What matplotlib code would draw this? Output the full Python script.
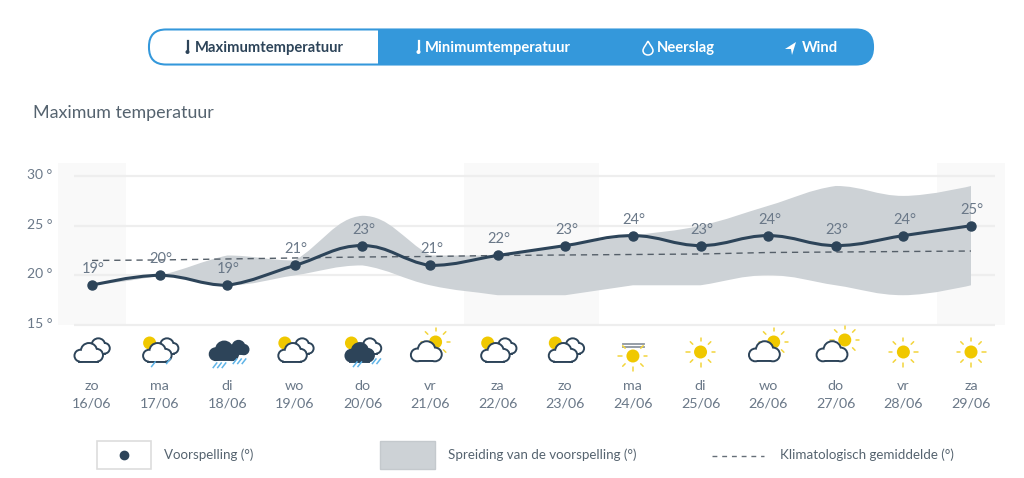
import matplotlib
matplotlib.use("Agg")
import matplotlib.pyplot as plt
from matplotlib.path import Path
from matplotlib.patches import PathPatch, Circle, Rectangle, FancyBboxPatch
from matplotlib.transforms import ScaledTranslation
import numpy as np

plt.rcParams['font.family'] = ['Lato', 'DejaVu Sans']

days = ['zo', 'ma', 'di', 'wo', 'do', 'vr', 'za', 'zo', 'ma', 'di', 'wo', 'do', 'vr', 'za']
dates = ['16/06', '17/06', '18/06', '19/06', '20/06', '21/06', '22/06',
         '23/06', '24/06', '25/06', '26/06', '27/06', '28/06', '29/06']
forecast = [19, 20, 19, 21, 23, 21, 22, 23, 24, 23, 24, 23, 24, 25]
spread_low = [19, 20, 19, 20, 21, 19, 18, 18, 19, 19, 20, 19, 18, 19]
spread_high = [19, 20, 22, 21.5, 26, 22, 22, 23, 24, 25, 27, 29, 28, 29]
climate = [21.5, 21.55, 21.65, 21.75, 21.85, 21.9, 22.0, 22.05, 22.1, 22.15, 22.3, 22.35, 22.4, 22.45]
y_ticks = [15, 20, 25, 30]
weekends = [(-0.5, 0.5), (5.5, 7.5), (12.5, 13.5)]
icons = ['cloud', 'sun_rain', 'dark_rain', 'sun_cloud', 'sun_dark_rain', 'bright_cloud', 'sun_cloud',
         'sun_cloud', 'haze', 'sun', 'bright_cloud', 'bright_cloud2', 'sun', 'sun']
tabs = ['Maximumtemperatuur', 'Minimumtemperatuur', 'Neerslag', 'Wind']
legend_labels = ['Voorspelling (°)', 'Spreiding van de voorspelling (°)', 'Klimatologisch gemiddelde (°)']

W, H = 1024, 478
DARK = '#2d4459'
TEXT = '#6a7888'
BLUE = '#3498db'
YELLOW = '#f0c800'
RAIN = '#5fb4e8'


def spline_path(x, y):
    # same kind of smoothing a highcharts spline uses
    s = 1.5
    d = s + 1
    verts = [(x[0], y[0])]
    codes = [Path.MOVETO]
    n = len(x)
    right = (x[0], y[0])
    for i in range(1, n):
        if i < n - 1:
            lx = (s * x[i] + x[i - 1]) / d
            ly = (s * y[i] + y[i - 1]) / d
            rx = (s * x[i] + x[i + 1]) / d
            ry = (s * y[i] + y[i + 1]) / d
            corr = (ry - ly) * (rx - x[i]) / (rx - lx) + y[i] - ry
            ly += corr
            ry += corr
            if ly > max(y[i - 1], y[i]):
                ry -= ly - max(y[i - 1], y[i])
                ly = max(y[i - 1], y[i])
            elif ly < min(y[i - 1], y[i]):
                ry += min(y[i - 1], y[i]) - ly
                ly = min(y[i - 1], y[i])
            if ry > max(y[i + 1], y[i]):
                ly -= ry - max(y[i + 1], y[i])
                ry = max(y[i + 1], y[i])
            elif ry < min(y[i + 1], y[i]):
                ly += min(y[i + 1], y[i]) - ry
                ry = min(y[i + 1], y[i])
        else:
            lx, ly = x[i], y[i]
            rx, ry = x[i], y[i]
        verts += [right, (lx, ly), (x[i], y[i])]
        codes += [Path.CURVE4, Path.CURVE4, Path.CURVE4]
        right = (rx, ry)
    return verts, codes


def band_path(x, low, high):
    v1, c1 = spline_path(x, high)
    v2, c2 = spline_path(x[::-1], low[::-1])
    c2[0] = Path.LINETO
    verts = v1 + v2 + [v1[0]]
    codes = c1 + c2 + [Path.CLOSEPOLY]
    return Path(verts, codes)


def draw_cloud(ov, cx, cy, scale, face, edge, z):
    parts = [
        (cx - 9 * scale, cy + 3 * scale, 5.5 * scale),
        (cx + 0.5 * scale, cy - 2 * scale, 8 * scale),
        (cx + 9 * scale, cy + 2.5 * scale, 6 * scale),
    ]
    base = (cx - 9 * scale, cy + 3 * scale, 18 * scale, 5.5 * scale)
    for cxx, cyy, r in parts:
        ov.add_patch(Circle((cxx, cyy), r, fc=edge, ec=edge, lw=2.8, zorder=z))
    ov.add_patch(Rectangle(base[:2], base[2], base[3], fc=edge, ec=edge, lw=2.8, zorder=z))
    for cxx, cyy, r in parts:
        ov.add_patch(Circle((cxx, cyy), r, fc=face, ec='none', zorder=z + 0.1))
    ov.add_patch(Rectangle(base[:2], base[2], base[3], fc=face, ec='none', zorder=z + 0.1))


def draw_sun(ov, cx, cy, r, rays=True, z=3, skip_top=False):
    ov.add_patch(Circle((cx, cy), r, fc=YELLOW, ec='none', zorder=z))
    if rays:
        for deg in np.arange(0, 360, 45):
            # y axis of the overlay points down, so 270 is the upward ray
            if skip_top and deg == 270:
                continue
            a = np.deg2rad(deg)
            ov.plot([cx + (r + 4.5) * np.cos(a), cx + (r + 8) * np.cos(a)],
                    [cy + (r + 4.5) * np.sin(a), cy + (r + 8) * np.sin(a)],
                    color='#f3d53c', lw=1.1, zorder=z, solid_capstyle='round')


def draw_rain(ov, x0, y0, count):
    for k in range(count):
        ov.plot([x0 + k * 4.5, x0 + k * 4.5 + 3.5], [y0 + 4.5, y0],
                color=RAIN, lw=1.1, zorder=6)


def draw_icon(ov, kind, x):
    y = 350
    if kind == 'sun':
        draw_sun(ov, x, y + 2, 6.5)
    elif kind == 'haze':
        draw_sun(ov, x, y + 6, 6.5, skip_top=True)
        ov.plot([x - 10, x + 11], [y - 6, y - 6], color='#8d96a0', lw=1.3)
        ov.plot([x - 10, x + 11], [y - 3, y - 3], color='#8d96a0', lw=1.3)
    elif kind == 'cloud':
        draw_cloud(ov, x + 6, y - 3.5, 0.72, 'white', DARK, 2)
        draw_cloud(ov, x - 3.5, y + 3, 0.9, 'white', DARK, 4)
    elif kind == 'sun_cloud' or kind == 'sun_rain':
        draw_sun(ov, x - 10, y - 7, 6.5, rays=False, z=1.5)
        draw_cloud(ov, x + 7, y - 3.5, 0.72, 'white', DARK, 2)
        draw_cloud(ov, x - 2.5, y + 3, 0.9, 'white', DARK, 4)
        if kind == 'sun_rain':
            draw_rain(ov, x - 8, y + 12, 1)
            draw_rain(ov, x + 7, y + 9, 1)
    elif kind == 'dark_rain':
        draw_cloud(ov, x + 11, y - 2, 0.62, DARK, DARK, 2)
        draw_cloud(ov, x - 3.5, y + 1.5, 0.9, DARK, DARK, 4)
        draw_rain(ov, x - 14, y + 13, 3)
        draw_rain(ov, x + 6, y + 9, 3)
    elif kind == 'sun_dark_rain':
        draw_sun(ov, x - 11, y - 7, 6.5, rays=False, z=1.5)
        draw_cloud(ov, x + 7, y - 3.5, 0.72, 'white', DARK, 2)
        draw_cloud(ov, x - 3, y + 3, 0.9, DARK, DARK, 4)
        draw_rain(ov, x - 9, y + 12, 2)
        draw_rain(ov, x + 10, y + 9, 2)
    elif kind == 'bright_cloud' or kind == 'bright_cloud2':
        sx, sy = (x + 5.5, y - 8) if kind == 'bright_cloud' else (x + 9, y - 10)
        draw_sun(ov, sx, sy, 6.5, z=1.5)
        draw_cloud(ov, x - 4, y + 2, 0.98, 'white', DARK, 4)


fig = plt.figure(figsize=(W / 100, H / 100), dpi=100, facecolor='white')

# chart area in pixels: x 58..1005, y 163..325
ax = fig.add_axes([58.2 / W, 1 - 325 / H, (1004.8 - 58.2) / W, (325 - 163) / H])
ax.set_xlim(-0.5, 13.5)
ax.set_ylim(15, 15 + (325 - 163) / 9.93)
for s in ax.spines.values():
    s.set_visible(False)

x = list(range(len(forecast)))
for a, b in weekends:
    ax.axvspan(a, b, color='#f9f9f9', lw=0, zorder=0)
ax.hlines(y_ticks, -0.26, 13.35, color='#eeeeee', lw=1.6, zorder=1, clip_on=False)

ax.add_patch(PathPatch(band_path(x, spread_low, spread_high), fc='#cdd2d6', ec='none', zorder=2))
ax.plot(x, climate, color='#555f69', lw=1, dashes=(4.5, 3.5), zorder=3)
v, c = spline_path(x, forecast)
ax.add_patch(PathPatch(Path(v, c), fc='none', ec=DARK, lw=2.2, zorder=4))
ax.plot(x, forecast, 'o', color=DARK, ms=6.5, zorder=5, clip_on=False)
for i, val in enumerate(forecast):
    ax.annotate(f'{val}°', (i, val), xytext=(1, 6.5), textcoords='offset points', ha='center',
                va='bottom', fontsize=10.5, color=TEXT, zorder=6)

ax.set_yticks(y_ticks)
ax.set_yticklabels([f'{t} °' for t in y_ticks], fontsize=10, color=TEXT)
ax.set_xticks(x)
ax.set_xticklabels([f'{d}\n{t}' for d, t in zip(days, dates)], fontsize=10.3, color=TEXT, linespacing=1.6)
ax.tick_params(axis='both', length=0)
ax.tick_params(axis='y', pad=4)
ax.tick_params(axis='x', pad=39.5)
for lab in ax.get_yticklabels():
    lab.set_transform(lab.get_transform() + ScaledTranslation(0, 1.4 / 72, fig.dpi_scale_trans))

# overlay in pixel coordinates for tabs, icons and legend
ov = fig.add_axes([0, 0, 1, 1], facecolor='none')
ov.set_xlim(0, W)
ov.set_ylim(H, 0)
ov.axis('off')

ov.add_patch(FancyBboxPatch((149, 29.5), 724, 35, boxstyle='round,pad=0,rounding_size=17', fc=BLUE, ec=BLUE, lw=1.5))
left_tab = FancyBboxPatch((150, 30.5), 260, 33, boxstyle='round,pad=0,rounding_size=16', fc='white', ec='none', zorder=2)
ov.add_patch(left_tab)
left_tab.set_clip_path(Rectangle((140, 20), 238, 50, transform=ov.transData))

tab_x = [195, 425, 657, 802]
tab_colors = [DARK, 'white', 'white', 'white']
for t, tx, col in zip(tabs, tab_x, tab_colors):
    ov.text(tx, 47.5, t, fontsize=10.6, fontweight='bold', color=col, va='center', ha='left', zorder=4)

# small tab glyphs
for gx, col in [(187.5, DARK), (418.5, 'white')]:
    ov.plot([gx, gx], [41, 51], color=col, lw=1.6, zorder=4)
    ov.add_patch(Circle((gx, 52), 2, fc=col, ec='none', zorder=4))
drop = Path([(648, 41), (646, 45), (643, 48), (643, 50.5), (643, 53), (645, 55), (648, 55),
             (651, 55), (653, 53), (653, 50.5), (653, 48), (650, 45), (648, 41)],
            [Path.MOVETO] + [Path.CURVE4] * 12)
ov.add_patch(PathPatch(drop, fc='none', ec='white', lw=1.1, zorder=4))
ov.fill([796, 785, 791, 792], [42, 49, 49, 55], color='white', lw=0, zorder=4)

ov.text(33, 113, 'Maximum temperatuur', fontsize=12.85, color='#55636f', va='center', ha='left')

for i, kind in enumerate(icons):
    px = 92 + i * (971 - 92) / 13
    draw_icon(ov, kind, px)

# legend
ov.add_patch(Rectangle((97, 441), 54, 28, fc='white', ec='#dddddd', lw=1.2))
ov.plot([124], [455], 'o', color=DARK, ms=6)
ov.add_patch(Rectangle((380, 441), 55, 28, fc='#cdd2d6', ec='#c4c9cd', lw=1))
ov.plot([712, 764], [456, 456], color='#666f78', lw=1, dashes=(3.5, 3.5))
for lx, lab in zip([164, 448, 780], legend_labels):
    ov.text(lx, 454.5, lab, fontsize=9.65, color='#55636f', va='center', ha='left')

fig.savefig('out.png', dpi=100)
